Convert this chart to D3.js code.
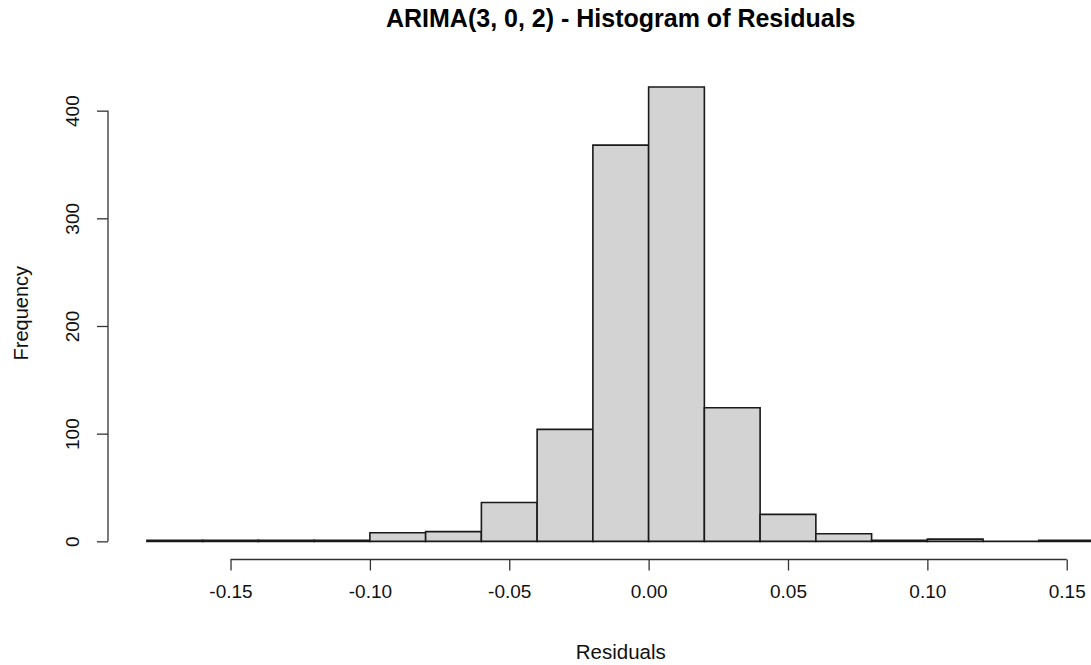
<!DOCTYPE html>
<html>
<head>
<meta charset="utf-8">
<script src="https://cdn.jsdelivr.net/npm/d3@7"></script>
<style>
  html, body { margin: 0; padding: 0; background: #fff; }
  svg { display: block; font-family: "Liberation Sans", Arial, sans-serif; }
</style>
</head>
<body>
<svg id="chart" width="1091" height="665"></svg>
<script>
// Histogram bin edges (width 0.02) and counts of residuals per bin
const binStarts = [-0.18, -0.16, -0.14, -0.12, -0.10, -0.08, -0.06, -0.04, -0.02,
                   0.00, 0.02, 0.04, 0.06, 0.08, 0.10, 0.12, 0.14];
const binWidth = 0.02;
const counts = [1, 1, 1, 1, 8, 9, 36, 104, 368, 422, 124, 25, 7, 1, 2, 0, 1];
const xTicks = [-0.15, -0.10, -0.05, 0.00, 0.05, 0.10, 0.15];
const yTicks = [0, 100, 200, 300, 400];

const titleText = "ARIMA(3, 0, 2) - Histogram of Residuals";
const xLabel = "Residuals";
const yLabel = "Frequency";

const svg = d3.select("#chart");

// Plot region, with the usual 4% padding on both axes
const xMin = binStarts[0], xMax = binStarts[binStarts.length - 1] + binWidth;
const xPad = (xMax - xMin) * 0.04;
const yMax = d3.max(counts), yPad = yMax * 0.04;

const plot = { left: 109, right: 1132.5, top: 68.8, bottom: 559.5 };

const x = d3.scaleLinear().domain([xMin - xPad, xMax + xPad]).range([plot.left, plot.right]);
const y = d3.scaleLinear().domain([-yPad, yMax + yPad]).range([plot.bottom, plot.top]);

// Bars as closed outlines so empty bins still show their base line
svg.append("g")
  .selectAll("path")
  .data(binStarts.map((s, i) => ({ start: s, count: counts[i] })))
  .join("path")
  .attr("d", d => {
    const x0 = x(d.start), x1 = x(d.start + binWidth), y0 = y(0), y1 = y(d.count);
    return `M${x0},${y0}L${x0},${y1}L${x1},${y1}L${x1},${y0}Z`;
  })
  .attr("fill", "#d3d3d3")
  .attr("stroke", "#1a1a1a")
  .attr("stroke-width", 1.6);

// X axis
const xAxis = d3.axisBottom(x).tickValues(xTicks).tickSizeOuter(0).tickSize(11).tickPadding(14);
const gx = svg.append("g").attr("transform", `translate(0,${plot.bottom})`).call(xAxis);
gx.select(".domain").remove();
gx.append("line")
  .attr("x1", x(xTicks[0])).attr("x2", x(xTicks[xTicks.length - 1]))
  .attr("stroke", "#333").attr("stroke-width", 1.3);
gx.selectAll(".tick line").attr("stroke", "#333").attr("stroke-width", 1.3);
gx.selectAll(".tick text").attr("font-size", 19).attr("fill", "#111")
  .text(d => d3.format(".2f")(d).replace("−", "-"));

// Y axis
const yAxis = d3.axisLeft(y).tickValues(yTicks).tickSizeOuter(0).tickSize(11);
const gy = svg.append("g").attr("transform", `translate(${plot.left - 1},0)`).call(yAxis);
gy.select(".domain").remove();
gy.append("line")
  .attr("y1", y(yTicks[0])).attr("y2", y(yTicks[yTicks.length - 1]))
  .attr("stroke", "#333").attr("stroke-width", 1.3);
gy.selectAll(".tick line").attr("stroke", "#333").attr("stroke-width", 1.3);
gy.selectAll(".tick text")
  .attr("font-size", 19).attr("fill", "#111")
  .attr("text-anchor", "middle")
  .attr("transform", "translate(-36,0) rotate(-90)")
  .attr("x", 0).attr("dy", "0.35em");

// Title and axis labels
svg.append("text")
  .attr("x", (plot.left + plot.right) / 2).attr("y", 27)
  .attr("text-anchor", "middle").attr("font-weight", "bold").attr("font-size", 25)
  .attr("fill", "#000").text(titleText);

svg.append("text")
  .attr("x", (plot.left + plot.right) / 2).attr("y", 659)
  .attr("text-anchor", "middle").attr("font-size", 20.5).attr("fill", "#111")
  .text(xLabel);

svg.append("text")
  .attr("transform", `translate(28,${(plot.top + plot.bottom) / 2 - 1}) rotate(-90)`)
  .attr("text-anchor", "middle").attr("font-size", 20).attr("fill", "#111")
  .text(yLabel);
</script>
</body>
</html>
